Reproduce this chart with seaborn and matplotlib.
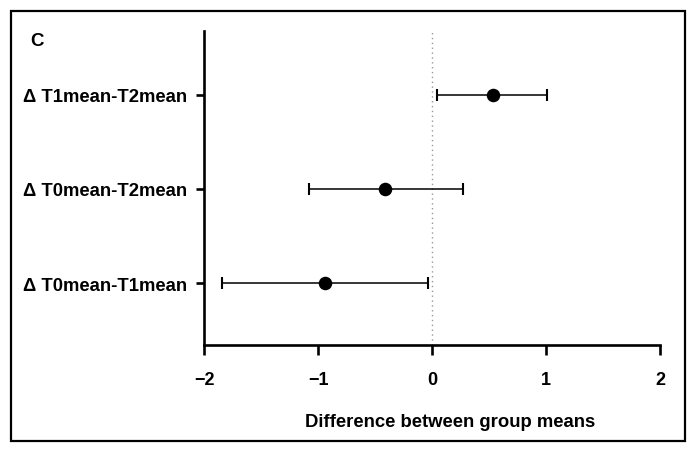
import matplotlib
matplotlib.use("Agg")
import matplotlib.pyplot as plt
import seaborn as sns
import pandas as pd
from matplotlib.patches import Rectangle

comparisons = ["\u0394 T1mean-T2mean", "\u0394 T0mean-T2mean", "\u0394 T0mean-T1mean"]
mean_diff = [0.535, -0.41, -0.94]
ci_low = [0.045, -1.08, -1.84]
ci_high = [1.01, 0.27, -0.035]
xticks = [-2, -1, 0, 1, 2]
xlabel = "Difference between group means"
panel = "C"

sns.set_theme(style="ticks")
plt.rcParams['font.family'] = ['Liberation Sans', 'DejaVu Sans']
plt.rcParams['text.color'] = 'black'

df = pd.DataFrame({"comp": comparisons, "mean": mean_diff, "lo": ci_low, "hi": ci_high})
df["pos"] = range(len(df))

fig = plt.figure(figsize=(6.94, 4.56), dpi=100)
ax = fig.add_axes([0.294, 0.241, 0.657, 0.689])

ax.axvline(0, color="#999999", linestyle=(0, (1, 2.5)), linewidth=1.0, zorder=0)
ax.errorbar(df["mean"], df["pos"],
            xerr=[df["mean"] - df["lo"], df["hi"] - df["mean"]],
            fmt="none", ecolor="black", elinewidth=1.1, capsize=4.3, capthick=1.5, zorder=2)
sns.scatterplot(data=df, x="mean", y="pos", ax=ax, color="black", s=95,
                edgecolor="black", linewidth=0, zorder=3, legend=False)

ax.set_xlim(-2, 2)
ax.set_ylim(2.66, -0.68)
ax.set_xticks(xticks)
ax.set_xticklabels(["\u22122", "\u22121", "0", "1", "2"], fontsize=13, fontweight="bold")
ax.set_yticks(df["pos"])
ax.set_yticklabels(df["comp"], fontsize=13.3, fontweight="bold")
ax.set_xlabel(xlabel, fontsize=13.3, fontweight="bold", color="black")
ax.xaxis.set_label_coords(0.54, -0.215)
ax.set_ylabel("")
for s in ["top", "right"]:
    ax.spines[s].set_visible(False)
for s in ["left", "bottom"]:
    ax.spines[s].set_linewidth(1.9)
    ax.spines[s].set_color("black")
ax.tick_params(axis="x", width=1.9, length=7, color="black", labelcolor="black", pad=12)
ax.tick_params(axis="y", width=1.9, length=6, color="black", labelcolor="black", pad=6)

fig.text(30 / 694, 1 - 42 / 456, panel, fontsize=13.5, fontweight="bold", ha="left", va="center",
         color="black")
fig.patches.append(Rectangle((11 / 694, 1 - 442 / 456), 674 / 694, 430 / 456,
                             transform=fig.transFigure, fill=False, edgecolor="black",
                             linewidth=1.6))

fig.savefig("out.png", dpi=100)
